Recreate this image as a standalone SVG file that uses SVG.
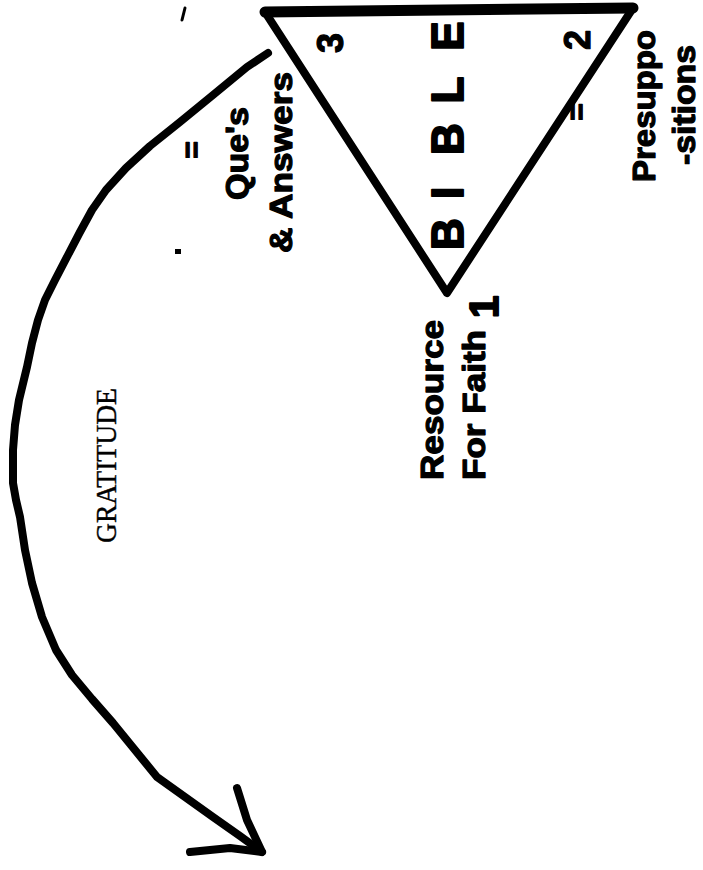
<svg xmlns="http://www.w3.org/2000/svg" width="703" height="870" viewBox="0 0 703 870">
<style>
.ink{fill:none;stroke:#000;stroke-linecap:round;stroke-linejoin:round}
.lbl{font-family:"Liberation Sans",Arial,sans-serif;font-weight:bold;fill:#000;stroke:#000;stroke-width:1.2;stroke-linejoin:round}
.ser{font-family:"Liberation Serif","Times New Roman",serif;fill:#000;stroke:#000;stroke-width:0.4}
</style>
<rect width="703" height="870" fill="#fff"/>
<g id="triangle">
<polygon class="ink" points="265,12 633,8 447,293" stroke-width="8"/>
<line class="ink" x1="265" y1="12" x2="633" y2="8" stroke-width="11"/>
<g class="lbl" font-size="44" style="stroke-width:2">
<text transform="translate(463,234) rotate(-90)" text-anchor="middle">B</text>
<text transform="translate(463,193) rotate(-90)" text-anchor="middle">I</text>
<text transform="translate(463,139) rotate(-90)" text-anchor="middle">B</text>
<text transform="translate(463,90) rotate(-90)" text-anchor="middle">L</text>
<text transform="translate(463,36) rotate(-90)" text-anchor="middle">E</text>
</g>
<text class="lbl" font-size="36" transform="translate(343,53) rotate(-90)">3</text>
<text class="lbl" font-size="36" transform="translate(590,50) rotate(-90)">2</text>
</g>
<g id="node-resource">
<text class="lbl" font-size="32" transform="translate(443,480) rotate(-90)" textLength="160" lengthAdjust="spacingAndGlyphs">Resource</text>
<text class="lbl" font-size="32" transform="translate(485,480) rotate(-90)" textLength="150" lengthAdjust="spacingAndGlyphs">For Faith</text>
<text class="lbl" font-size="40" style="stroke-width:2" transform="translate(498,318) rotate(-90)">1</text>
</g>
<g id="node-questions">
<text class="lbl" font-size="30" transform="translate(202,150) rotate(-90)" text-anchor="middle">=</text>
<text class="lbl" font-size="32" transform="translate(248,200) rotate(-90)" textLength="93" lengthAdjust="spacingAndGlyphs">Que's</text>
<text class="lbl" font-size="32" transform="translate(292,253) rotate(-90)" textLength="181" lengthAdjust="spacingAndGlyphs">&amp; Answers</text>
</g>
<g id="node-presuppositions">
<text class="lbl" font-size="30" transform="translate(587,112) rotate(-90)" text-anchor="middle">=</text>
<text class="lbl" font-size="32" transform="translate(655,182) rotate(-90)" textLength="152" lengthAdjust="spacingAndGlyphs">Presuppo</text>
<text class="lbl" font-size="31" transform="translate(695,165) rotate(-90)" textLength="120" lengthAdjust="spacingAndGlyphs">-sitions</text>
</g>
<g id="connectors">
<path class="ink" stroke-width="8" d="M268,53 L247,67 L213,95 L180,122 L150,146 L126,168 L106,190 L92,210 L80,232 L68,255 L55,280 L45,300 L38,320 L32,343 L27,367 L19,400 L15,425 L13,450 L13,483 L16,500 L20,517 L25,550 L32,583 L42,617 L56,650 L72,675 L92,699 L113,723 L135,750 L157,777 L185,797 L213,817 L240,836 L262,852"/>
<path class="ink" stroke-width="8" d="M237,788 L247,820 L262,852 L230,848 L190,852"/>
<text class="ser" font-size="29" transform="translate(116,543) rotate(-90)" textLength="155" lengthAdjust="spacingAndGlyphs">GRATITUDE</text>
</g>
<g id="marks">
<path class="ink" stroke-width="3" d="M185,8 L182,20"/>
<rect x="175" y="249" width="6" height="5" fill="#000"/>
</g>
</svg>
